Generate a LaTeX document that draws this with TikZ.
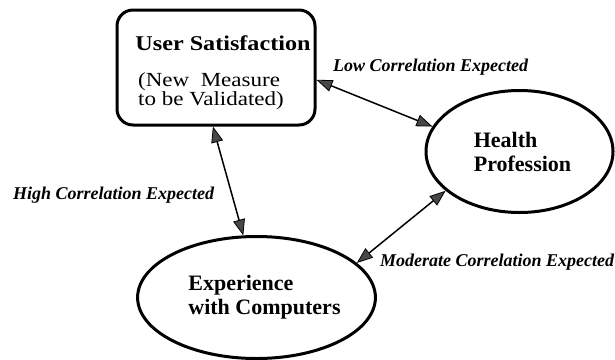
\documentclass[tikz,border=0pt]{standalone}
\usepackage{fontspec}
\setmainfont{Liberation Serif}
\newfontfamily\boxfont[FakeStretch=1.15]{Liberation Serif}
\usetikzlibrary{shapes.geometric,arrows.meta}
\tikzset{
  thickbox/.style={draw, line width=3pt, rounded corners=16pt, minimum width=198pt, minimum height=115pt, inner sep=0pt},
  oval/.style={draw, ellipse, line width=3pt, minimum width=187pt, minimum height=122pt, inner sep=0pt, align=left, font=\fontsize{22}{24}\selectfont\bfseries},
  lbl/.style={font=\fontsize{18}{20}\selectfont\bfseries\itshape, inner sep=0pt},
  link/.style={line width=1.5pt, {Triangle[length=16pt,width=12pt,color=black,fill=black!72,line width=0.8pt]}-{Triangle[length=16pt,width=12pt,color=black,fill=black!72,line width=0.8pt]}}
}
\begin{document}
\begin{tikzpicture}[x=1pt,y=-1pt]
\useasboundingbox (0,0) rectangle (615,359);
\node[thickbox] (us) at (216,67.5) {};
\node[font=\boxfont\fontsize{21}{23}\selectfont\bfseries, inner sep=0pt] (ust) at (223,43) {User Satisfaction};
\node[font=\boxfont\fontsize{20}{18}\selectfont, align=left, inner sep=0pt] (usm) at (211,91.5) {(New~~Measure\\to be Validated)};
\node[oval] (hp) at (519.5,151.5) {\hspace*{6pt}Health\\\hspace*{6pt}Profession};
\node[oval] (ec) at (256.5,297.5) {\hspace*{16pt}Experience\\\hspace*{16pt}with Computers};
\draw[link] (us.-93) -- (ec.102);
\draw[link] (us.-7) -- (hp.164);
\draw[link] (hp.208) -- (ec.19);
\node[lbl, anchor=west] (lh) at (13,195) {High Correlation Expected};
\node[lbl, anchor=west] (ll) at (333,67) {Low Correlation Expected};
\node[lbl, anchor=west] (lm) at (380,262) {Moderate Correlation Expected};
\end{tikzpicture}
\end{document}
